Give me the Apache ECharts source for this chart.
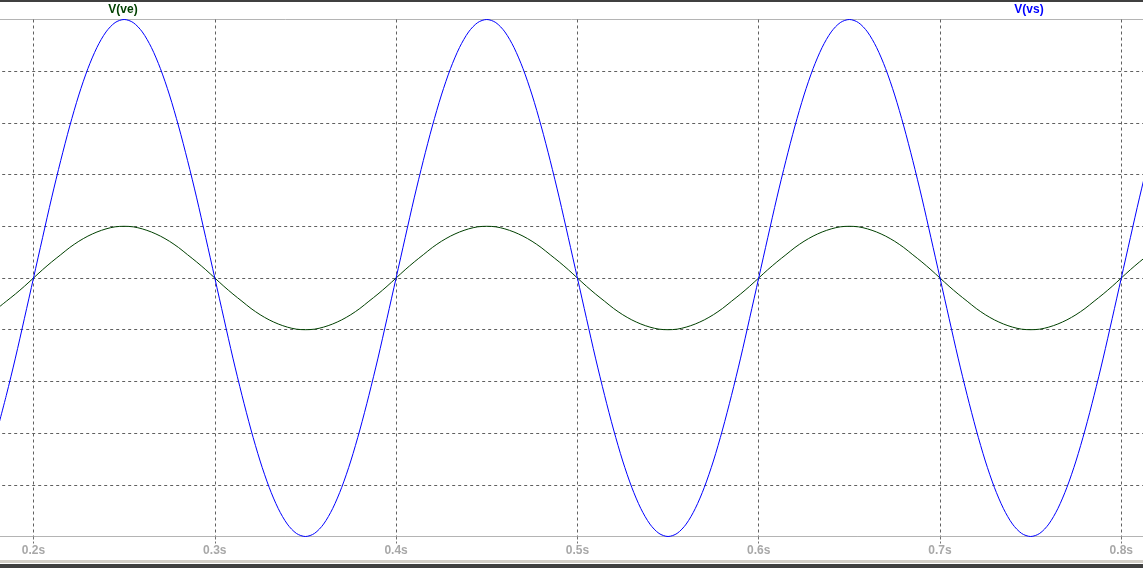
<!DOCTYPE html>
<html>
<head>
<meta charset="utf-8">
<script src="https://cdn.jsdelivr.net/npm/echarts@6/dist/echarts.min.js"></script>
<style>
  html, body { margin: 0; padding: 0; background: #fff; }
  #main { width: 1143px; height: 568px; }
</style>
</head>
<body>
<div id="main"></div>
<script>
// time samples (s), every 5 ms
var times = [0.180, 0.185, 0.190, 0.195,
  0.200, 0.205, 0.210, 0.215, 0.220, 0.225, 0.230, 0.235, 0.240, 0.245,
  0.250, 0.255, 0.260, 0.265, 0.270, 0.275, 0.280, 0.285, 0.290, 0.295,
  0.300, 0.305, 0.310, 0.315, 0.320, 0.325, 0.330, 0.335, 0.340, 0.345,
  0.350, 0.355, 0.360, 0.365, 0.370, 0.375, 0.380, 0.385, 0.390, 0.395,
  0.400, 0.405, 0.410, 0.415, 0.420, 0.425, 0.430, 0.435, 0.440, 0.445,
  0.450, 0.455, 0.460, 0.465, 0.470, 0.475, 0.480, 0.485, 0.490, 0.495,
  0.500, 0.505, 0.510, 0.515, 0.520, 0.525, 0.530, 0.535, 0.540, 0.545,
  0.550, 0.555, 0.560, 0.565, 0.570, 0.575, 0.580, 0.585, 0.590, 0.595,
  0.600, 0.605, 0.610, 0.615, 0.620, 0.625, 0.630, 0.635, 0.640, 0.645,
  0.650, 0.655, 0.660, 0.665, 0.670, 0.675, 0.680, 0.685, 0.690, 0.695,
  0.700, 0.705, 0.710, 0.715, 0.720, 0.725, 0.730, 0.735, 0.740, 0.745,
  0.750, 0.755, 0.760, 0.765, 0.770, 0.775, 0.780, 0.785, 0.790, 0.795,
  0.800, 0.805, 0.810, 0.815, 0.820];

// V(vs) - output, blue
var vsValues = [-2.94, -2.27, -1.55, -0.78,
  0, 0.78, 1.55, 2.27, 2.94, 3.54, 4.05, 4.46, 4.76, 4.94,
  5, 4.94, 4.76, 4.46, 4.05, 3.54, 2.94, 2.27, 1.55, 0.78,
  0, -0.78, -1.55, -2.27, -2.94, -3.54, -4.05, -4.46, -4.76, -4.94,
  -5, -4.94, -4.76, -4.46, -4.05, -3.54, -2.94, -2.27, -1.55, -0.78,
  0, 0.78, 1.55, 2.27, 2.94, 3.54, 4.05, 4.46, 4.76, 4.94,
  5, 4.94, 4.76, 4.46, 4.05, 3.54, 2.94, 2.27, 1.55, 0.78,
  0, -0.78, -1.55, -2.27, -2.94, -3.54, -4.05, -4.46, -4.76, -4.94,
  -5, -4.94, -4.76, -4.46, -4.05, -3.54, -2.94, -2.27, -1.55, -0.78,
  0, 0.78, 1.55, 2.27, 2.94, 3.54, 4.05, 4.46, 4.76, 4.94,
  5, 4.94, 4.76, 4.46, 4.05, 3.54, 2.94, 2.27, 1.55, 0.78,
  0, -0.78, -1.55, -2.27, -2.94, -3.54, -4.05, -4.46, -4.76, -4.94,
  -5, -4.94, -4.76, -4.46, -4.05, -3.54, -2.94, -2.27, -1.55, -0.78,
  0, 0.78, 1.55, 2.27, 2.94];

// V(ve) - input, dark green
var veValues = [-0.59, -0.45, -0.31, -0.16,
  0, 0.16, 0.31, 0.45, 0.59, 0.71, 0.81, 0.89, 0.95, 0.99,
  1, 0.99, 0.95, 0.89, 0.81, 0.71, 0.59, 0.45, 0.31, 0.16,
  0, -0.16, -0.31, -0.45, -0.59, -0.71, -0.81, -0.89, -0.95, -0.99,
  -1, -0.99, -0.95, -0.89, -0.81, -0.71, -0.59, -0.45, -0.31, -0.16,
  0, 0.16, 0.31, 0.45, 0.59, 0.71, 0.81, 0.89, 0.95, 0.99,
  1, 0.99, 0.95, 0.89, 0.81, 0.71, 0.59, 0.45, 0.31, 0.16,
  0, -0.16, -0.31, -0.45, -0.59, -0.71, -0.81, -0.89, -0.95, -0.99,
  -1, -0.99, -0.95, -0.89, -0.81, -0.71, -0.59, -0.45, -0.31, -0.16,
  0, 0.16, 0.31, 0.45, 0.59, 0.71, 0.81, 0.89, 0.95, 0.99,
  1, 0.99, 0.95, 0.89, 0.81, 0.71, 0.59, 0.45, 0.31, 0.16,
  0, -0.16, -0.31, -0.45, -0.59, -0.71, -0.81, -0.89, -0.95, -0.99,
  -1, -0.99, -0.95, -0.89, -0.81, -0.71, -0.59, -0.45, -0.31, -0.16,
  0, 0.16, 0.31, 0.45, 0.59];

var seriesNames = ['V(ve)', 'V(vs)'];
var seriesColors = ['#004000', '#0000ff'];

function pairs(xs, ys) {
  var out = [];
  for (var i = 0; i < xs.length; i++) out.push([xs[i], ys[i]]);
  return out;
}

var chart = echarts.init(document.getElementById('main'), null, { renderer: 'canvas' });

// 0.1 s = ~181.3 px ; 0.2s sits at x=33.5, 0.8s at x=1121.3
// grid is widened past the window so the 0.1s / 0.9s ends fall off-screen
var option = {
  animation: false,
  backgroundColor: '#ffffff',
  grid: {
    left: -147.8,
    right: -159.6,
    top: 19.5,
    bottom: 31.5,
    outerBoundsMode: 'none',
    containLabel: false,
    show: true,
    borderColor: '#b4b4b4',
    borderWidth: 1,
    backgroundColor: '#ffffff'
  },
  xAxis: {
    type: 'value',
    min: 0.1,
    max: 0.9,
    interval: 0.1,
    axisLine: { show: true, onZero: false, lineStyle: { color: '#b4b4b4', width: 1 } },
    axisTick: { show: true, length: 7, lineStyle: { color: '#707070', type: [3, 2] } },
    axisLabel: {
      color: '#a8a8a8',
      fontFamily: 'Liberation Sans, Arial, sans-serif',
      fontWeight: 'bold',
      fontSize: 12,
      margin: 8,
      formatter: function (v) { return v.toFixed(1) + 's'; }
    },
    splitLine: {
      show: true,
      showMinLine: false,
      showMaxLine: false,
      lineStyle: { color: '#606060', width: 1, type: [3, 3] }
    }
  },
  yAxis: {
    type: 'value',
    min: -5,
    max: 5,
    interval: 1,
    axisLine: { show: false },
    axisTick: { show: false },
    axisLabel: { show: false },
    splitLine: {
      show: true,
      showMinLine: false,
      showMaxLine: false,
      lineStyle: { color: '#606060', width: 1, type: [3, 3] }
    }
  },
  graphic: [
    { type: 'rect', left: 0, top: 0, shape: { width: 1143, height: 2 }, style: { fill: '#404040' }, silent: true },
    { type: 'rect', left: 0, top: 560, shape: { width: 1143, height: 3 }, style: { fill: '#d4d0c8' }, silent: true },
    { type: 'rect', left: 0, top: 564, shape: { width: 1143, height: 4 }, style: { fill: '#404040' }, silent: true },
    {
      type: 'text', x: 123, y: 10,
      style: {
        text: seriesNames[0], fill: seriesColors[0],
        font: 'bold 12px "Liberation Sans", Arial, sans-serif',
        align: 'center', verticalAlign: 'middle'
      }
    },
    {
      type: 'text', x: 1029, y: 10,
      style: {
        text: seriesNames[1], fill: seriesColors[1],
        font: 'bold 12px "Liberation Sans", Arial, sans-serif',
        align: 'center', verticalAlign: 'middle'
      }
    }
  ],
  series: [
    {
      name: seriesNames[0],
      type: 'line',
      data: pairs(times, veValues),
      smooth: 0.3,
      showSymbol: false,
      lineStyle: { color: seriesColors[0], width: 1 }
    },
    {
      name: seriesNames[1],
      type: 'line',
      data: pairs(times, vsValues),
      smooth: 0.3,
      showSymbol: false,
      lineStyle: { color: seriesColors[1], width: 1 }
    }
  ]
};

chart.setOption(option);
</script>
</body>
</html>
